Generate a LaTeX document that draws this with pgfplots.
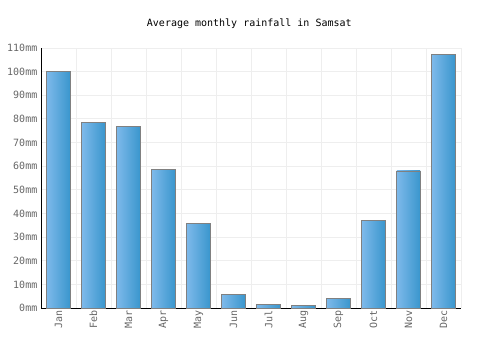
\documentclass[border=0pt]{standalone}
\usepackage{fontspec}
\setmainfont{DejaVu Sans Mono}
\usepackage{pgfplots}
\pgfplotsset{compat=1.18}
\definecolor{barL}{HTML}{7DB9EA}
\definecolor{barR}{HTML}{3A96CD}
\definecolor{gridc}{HTML}{EEEEEE}
\definecolor{tickc}{HTML}{666666}
\pgfplotsset{mybar/.style={ybar, bar shift=0pt, bar width=23.3pt, draw=gray, line width=0.8pt,
  left color=barL, right color=barR}}
\begin{document}
\begin{tikzpicture}[x=1pt,y=1pt]
\path[use as bounding box] (-41,-42) rectangle (459,308);
\begin{axis}[
  at={(0,0)}, anchor=south west,
  scale only axis, width=420pt, height=260pt,
  xmin=-0.5, xmax=11.5, ymin=0, ymax=110,
  xtick={0,...,11},
  xticklabels={Jan,Feb,Mar,Apr,May,Jun,Jul,Aug,Sep,Oct,Nov,Dec},
  minor xtick={-0.5,0.5,...,11.5},
  ytick={0,10,...,110},
  yticklabels={0mm,10mm,20mm,30mm,40mm,50mm,60mm,70mm,80mm,90mm,100mm,110mm},
  xminorgrids=true, ymajorgrids=true, xmajorgrids=false,
  grid style={draw=gridc, line width=0.9pt},
  minor grid style={draw=gridc, line width=0.9pt},
  axis x line*=bottom, axis y line*=left,
  axis line style={black, line width=0.9pt, -},
  major tick length=0pt, minor tick length=0pt,
  tick style={draw=none},
  ticklabel style={font=\fontsize{10}{12}\selectfont, text=tickc},
  xticklabel style={rotate=90, anchor=east, inner sep=2pt},
  yticklabel style={inner sep=3.5pt},
  /pgf/number format/assume math mode=true,
  clip=false,
]
\addplot[mybar] coordinates {(0,100.1)};
\addplot[mybar] coordinates {(1,78.5)};
\addplot[mybar] coordinates {(2,76.8)};
\addplot[mybar] coordinates {(3,58.7)};
\addplot[mybar] coordinates {(4,35.8)};
\addplot[mybar] coordinates {(5,5.8)};
\addplot[mybar] coordinates {(6,1.6)};
\addplot[mybar] coordinates {(7,1.1)};
\addplot[mybar] coordinates {(8,4.1)};
\addplot[mybar] coordinates {(9,37.2)};
\addplot[mybar] coordinates {(10,58.0)};
\addplot[mybar] coordinates {(11,107.3)};
\end{axis}
\node[font=\fontsize{10}{12}\selectfont] at (208.3,284) {Average monthly rainfall in Samsat};
\end{tikzpicture}
\end{document}
